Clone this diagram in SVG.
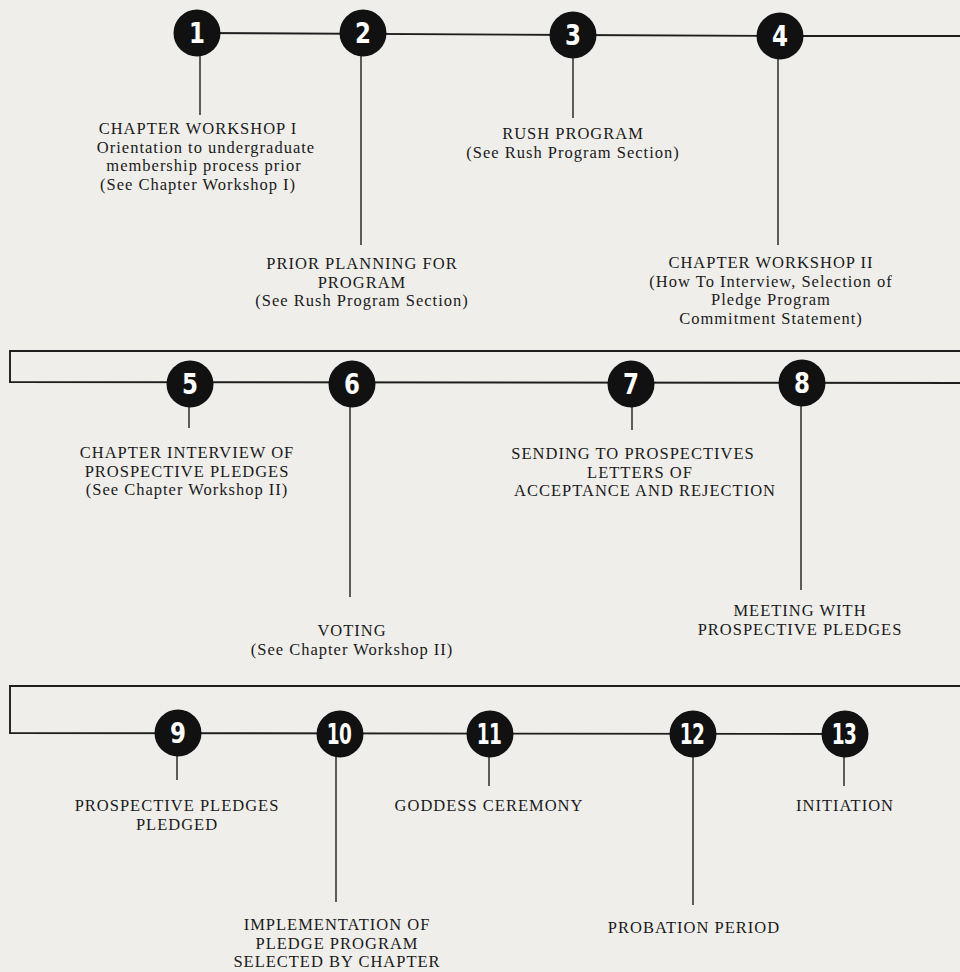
<svg xmlns="http://www.w3.org/2000/svg" width="960" height="972" viewBox="0 0 960 972">
<style>
.ln{stroke:#1e1e1e;stroke-width:1.9;fill:none}
.st{stroke:#1e1e1e;stroke-width:1.4;fill:none}
.c{fill:#111}
.n{font-family:"DejaVu Sans","Liberation Sans",sans-serif;font-weight:bold;font-size:28px;fill:#fff;text-anchor:middle}
.n2{letter-spacing:-1px}
.t{font-family:"Liberation Serif","Times New Roman",serif;font-size:16.5px;fill:#1a1a1a;text-anchor:middle;letter-spacing:1px}
</style>
<rect width="960" height="972" fill="#efeeeb"/>
<g id="connectors">
<polyline class="ln" points="197,33 573,35 780,36 960,36"/>
<polyline class="ln" points="960,351 10,351 10,382 960,383"/>
<polyline class="ln" points="960,686 10,686 10,733 845,734"/>
<line class="st" x1="200" y1="55" x2="200" y2="115"/>
<line class="st" x1="361" y1="55" x2="361" y2="245"/>
<line class="st" x1="573" y1="57" x2="573" y2="118"/>
<line class="st" x1="778" y1="58" x2="778" y2="245"/>
<line class="st" x1="189" y1="406" x2="189" y2="428"/>
<line class="st" x1="350" y1="406" x2="350" y2="597"/>
<line class="st" x1="632" y1="406" x2="632" y2="430"/>
<line class="st" x1="801" y1="406" x2="801" y2="590"/>
<line class="st" x1="177" y1="756" x2="177" y2="780"/>
<line class="st" x1="336" y1="756" x2="336" y2="902"/>
<line class="st" x1="489" y1="756" x2="489" y2="786"/>
<line class="st" x1="693" y1="756" x2="693" y2="905"/>
<line class="st" x1="844" y1="756" x2="844" y2="786"/>
</g>
<g id="n1"><circle class="c" cx="197" cy="33" r="23.5"/><text class="n" transform="translate(197,43) scale(0.82,1)">1</text>
<text class="t" x="198" y="134">CHAPTER WORKSHOP I</text>
<text class="t" x="206" y="152.5">Orientation to undergraduate</text>
<text class="t" x="204" y="171">membership process prior</text>
<text class="t" x="198" y="189.5">(See Chapter Workshop I)</text></g>
<g id="n2"><circle class="c" cx="363" cy="33" r="23.5"/><text class="n" transform="translate(363,43) scale(0.82,1)">2</text>
<text class="t" x="362" y="269">PRIOR PLANNING FOR</text>
<text class="t" x="362" y="287.5">PROGRAM</text>
<text class="t" x="362" y="306">(See Rush Program Section)</text></g>
<g id="n3"><circle class="c" cx="573" cy="35" r="23.5"/><text class="n" transform="translate(573,45) scale(0.82,1)">3</text>
<text class="t" x="573" y="139">RUSH PROGRAM</text>
<text class="t" x="573" y="157.5">(See Rush Program Section)</text></g>
<g id="n4"><circle class="c" cx="780" cy="36" r="23.5"/><text class="n" transform="translate(780,46) scale(0.82,1)">4</text>
<text class="t" x="771" y="268">CHAPTER WORKSHOP II</text>
<text class="t" x="771" y="286.5">(How To Interview, Selection of</text>
<text class="t" x="771" y="305">Pledge Program</text>
<text class="t" x="771" y="323.5">Commitment Statement)</text></g>
<g id="n5"><circle class="c" cx="190" cy="384" r="23.5"/><text class="n" transform="translate(190,394) scale(0.82,1)">5</text>
<text class="t" x="187" y="458">CHAPTER INTERVIEW OF</text>
<text class="t" x="187" y="476.5">PROSPECTIVE PLEDGES</text>
<text class="t" x="187" y="495">(See Chapter Workshop II)</text></g>
<g id="n6"><circle class="c" cx="352" cy="384" r="23.5"/><text class="n" transform="translate(352,394) scale(0.82,1)">6</text>
<text class="t" x="352" y="636">VOTING</text>
<text class="t" x="352" y="654.5">(See Chapter Workshop II)</text></g>
<g id="n7"><circle class="c" cx="631" cy="384" r="23.5"/><text class="n" transform="translate(631,394) scale(0.82,1)">7</text>
<text class="t" x="633" y="459">SENDING TO PROSPECTIVES</text>
<text class="t" x="640" y="477.5">LETTERS OF</text>
<text class="t" x="645" y="496">ACCEPTANCE AND REJECTION</text></g>
<g id="n8"><circle class="c" cx="802" cy="383" r="23.5"/><text class="n" transform="translate(802,393) scale(0.82,1)">8</text>
<text class="t" x="800" y="616">MEETING WITH</text>
<text class="t" x="800" y="634.5">PROSPECTIVE PLEDGES</text></g>
<g id="n9"><circle class="c" cx="178" cy="733" r="23.5"/><text class="n" transform="translate(178,743) scale(0.82,1)">9</text>
<text class="t" x="177" y="811">PROSPECTIVE PLEDGES</text>
<text class="t" x="177" y="829.5">PLEDGED</text></g>
<g id="n10"><circle class="c" cx="340" cy="734" r="23.5"/><text class="n n2" transform="translate(339,744) scale(0.66,1)">10</text>
<text class="t" x="337" y="930">IMPLEMENTATION OF</text>
<text class="t" x="337" y="948.5">PLEDGE PROGRAM</text>
<text class="t" x="337" y="967">SELECTED BY CHAPTER</text></g>
<g id="n11"><circle class="c" cx="490" cy="734" r="23.5"/><text class="n n2" transform="translate(489,744) scale(0.66,1)">11</text>
<text class="t" x="489" y="811">GODDESS CEREMONY</text></g>
<g id="n12"><circle class="c" cx="693" cy="734" r="23.5"/><text class="n n2" transform="translate(692,744) scale(0.66,1)">12</text>
<text class="t" x="694" y="933">PROBATION PERIOD</text></g>
<g id="n13"><circle class="c" cx="845" cy="734" r="23.5"/><text class="n n2" transform="translate(844,744) scale(0.66,1)">13</text>
<text class="t" x="845" y="811">INITIATION</text></g>
</svg>
